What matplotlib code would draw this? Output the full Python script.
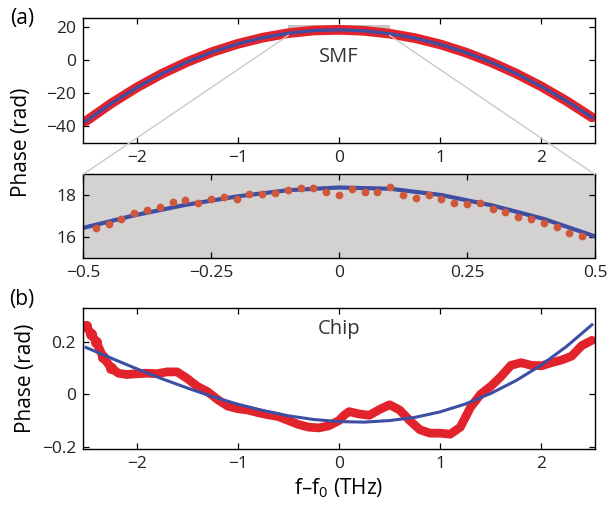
"""Phase vs frequency offset: SMF (with zoom inset) and chip."""
import matplotlib
matplotlib.use("Agg")
import matplotlib.pyplot as plt
from matplotlib.patches import Rectangle, ConnectionPatch

plt.rcParams["font.family"] = ["Open Sans", "DejaVu Sans"]
plt.rcParams["mathtext.default"] = "regular"
plt.rcParams["font.size"] = 12

# (a) SMF, full span
smf_f = [-2.5, -2.25, -2.0, -1.75, -1.5, -1.25, -1.0, -0.75, -0.5, -0.25, 0.0,
         0.25, 0.5, 0.75, 1.0, 1.25, 1.5, 1.75, 2.0, 2.25, 2.5]
smf_phase = [-37.2, -26.4, -16.8, -8.4, -1.2, 4.9, 9.8, 13.6, 16.3, 17.9, 18.35,
             17.7, 16.0, 13.3, 9.5, 4.6, -1.3, -8.2, -16.1, -25.0, -34.9]
smf_fit = [-37.2, -26.4, -16.8, -8.4, -1.2, 4.9, 9.8, 13.6, 16.3, 17.9, 18.35,
           17.7, 16.0, 13.3, 9.5, 4.6, -1.3, -8.2, -16.1, -25.0, -34.9]

# (a) SMF, zoomed -0.5..0.5 THz
zoom_f = [-0.475, -0.45, -0.425, -0.4, -0.375, -0.35, -0.325, -0.3, -0.275, -0.25,
          -0.225, -0.2, -0.175, -0.15, -0.125, -0.1, -0.075, -0.05, -0.025, 0.0,
          0.025, 0.05, 0.075, 0.1, 0.125, 0.15, 0.175, 0.2, 0.225, 0.25,
          0.275, 0.3, 0.325, 0.35, 0.375, 0.4, 0.425, 0.45, 0.475]
zoom_phase = [16.45, 16.66, 16.88, 17.17, 17.30, 17.46, 17.68, 17.76, 17.65, 17.81,
              17.94, 17.84, 18.08, 18.08, 18.13, 18.26, 18.34, 18.34, 18.16, 18.02,
              18.29, 18.16, 18.16, 18.42, 18.02, 17.86, 18.02, 17.81, 17.65, 17.57,
              17.62, 17.33, 17.20, 16.98, 16.88, 16.69, 16.50, 16.21, 16.05]
zoom_fit_f = [-0.5, -0.4, -0.3, -0.2, -0.1, 0.0, 0.1, 0.2, 0.3, 0.4, 0.5]
zoom_fit = [16.45, 17.05, 17.55, 17.95, 18.25, 18.38, 18.32, 18.02, 17.52, 16.88, 16.05]

# (b) chip
chip_f = [-2.5, -2.45, -2.4, -2.33, -2.25, -2.18, -2.1, -2.0, -1.9, -1.8, -1.7,
          -1.6, -1.5, -1.4, -1.3, -1.2, -1.1, -1.0, -0.9, -0.8, -0.7, -0.6, -0.5,
          -0.4, -0.3, -0.2, -0.1, 0.0, 0.05, 0.1, 0.2, 0.3, 0.4, 0.5, 0.6, 0.7,
          0.8, 0.9, 1.0, 1.1, 1.2, 1.3, 1.4, 1.5, 1.6, 1.7, 1.8, 1.9, 2.0, 2.1,
          2.2, 2.3, 2.4, 2.5]
chip_phase = [0.26, 0.23, 0.20, 0.14, 0.10, 0.08, 0.075, 0.078, 0.08, 0.078, 0.085,
              0.085, 0.06, 0.03, 0.01, -0.02, -0.045, -0.055, -0.06, -0.07, -0.078,
              -0.085, -0.10, -0.115, -0.125, -0.128, -0.12, -0.10, -0.08, -0.066,
              -0.075, -0.08, -0.058, -0.04, -0.06, -0.10, -0.135, -0.148, -0.148,
              -0.152, -0.125, -0.05, 0.0, 0.03, 0.067, 0.11, 0.12, 0.11, 0.108,
              0.12, 0.13, 0.145, 0.185, 0.205]
chip_fit_f = [-2.5, -2.25, -2.0, -1.75, -1.5, -1.25, -1.0, -0.75, -0.5, -0.25, 0.0,
              0.25, 0.5, 0.75, 1.0, 1.25, 1.5, 1.75, 2.0, 2.25, 2.5]
chip_fit = [0.178, 0.137, 0.097, 0.059, 0.024, -0.009, -0.038, -0.062, -0.082,
            -0.096, -0.104, -0.106, -0.100, -0.088, -0.067, -0.037, 0.003, 0.052,
            0.111, 0.182, 0.264]

RED = "#e3232b"
BLUE = "#3d4ea3"
DOT = "#d0573c"
GREY = "#d4d2d0"

fig = plt.figure(figsize=(6.08, 5.08), dpi=100)
ax1 = fig.add_axes([0.1365, 0.7185, 0.842, 0.246])
ax2 = fig.add_axes([0.1365, 0.4915, 0.842, 0.165])
ax3 = fig.add_axes([0.1365, 0.1152, 0.842, 0.278])


def style(ax):
    ax.tick_params(direction="in", length=4, width=0.9, top=True, right=True,
                   labelsize=12.5, pad=5, labelcolor="#222222")
    for s in ax.spines.values():
        s.set_linewidth(1.0)


# top panel
ax1.add_patch(Rectangle((-0.5, 15), 1.0, 6.5, facecolor="#c9c7c5", edgecolor="none",
                        zorder=1))
ax1.plot(smf_f, smf_phase, color=RED, lw=7, solid_capstyle="round", zorder=2)
ax1.plot(smf_f, smf_fit, color=BLUE, lw=2.3, zorder=3)
ax1.set_xlim(-2.53, 2.53)
ax1.set_ylim(-50.5, 25.5)
ax1.set_xticks([-2, -1, 0, 1, 2])
ax1.set_yticks([-40, -20, 0, 20])
ax1.text(0, 1.5, "SMF", ha="center", va="center", fontsize=14.5, color="#333333")
style(ax1)

# zoomed panel
ax2.set_facecolor(GREY)
ax2.plot(zoom_fit_f, zoom_fit, color=BLUE, lw=3, zorder=2)
ax2.plot(zoom_f, zoom_phase, "o", color=DOT, ms=5.6, mec="none", zorder=3)
ax2.set_xlim(-0.5, 0.5)
ax2.set_ylim(15, 19)
ax2.set_xticks([-0.5, -0.25, 0, 0.25, 0.5])
ax2.set_xticklabels(["\u22120.5", "\u22120.25", "0", "0.25", "0.5"])
ax2.set_yticks([16, 18])
style(ax2)

for xa, xb in [(-0.5, 0.0), (0.5, 1.0)]:
    con = ConnectionPatch(xyA=(xa, 15), coordsA=ax1.transData,
                          xyB=(xb, 1.0), coordsB=ax2.transAxes,
                          color="#cdc8c3", lw=1.0)
    fig.add_artist(con)

# bottom panel
ax3.plot(chip_f, chip_phase, color=RED, lw=6.3, solid_capstyle="round",
         solid_joinstyle="round", zorder=2)
ax3.plot(chip_f[:5], chip_phase[:5], "o", color=RED, ms=7, zorder=2)
ax3.plot(chip_fit_f, chip_fit, color=BLUE, lw=2.2, zorder=3)
ax3.set_xlim(-2.53, 2.53)
ax3.set_ylim(-0.21, 0.327)
ax3.set_xticks([-2, -1, 0, 1, 2])
ax3.set_yticks([-0.2, 0, 0.2])
ax3.set_yticklabels(["\u22120.2", "0", "0.2"])
ax3.text(0, 0.247, "Chip", ha="center", va="center", fontsize=14.5, color="#333333")
ax3.set_xlabel("f\u2013f$_0$ (THz)", fontsize=15, labelpad=3)
style(ax3)

fig.text(0.035, 0.72, "Phase (rad)", rotation=90, ha="center", va="center",
         fontsize=15)
fig.text(0.042, 0.255, "Phase (rad)", rotation=90, ha="center", va="center",
         fontsize=15)
fig.text(0.036, 0.964, "(a)", ha="center", va="center", fontsize=15)
fig.text(0.036, 0.41, "(b)", ha="center", va="center", fontsize=15)

fig.savefig("out.png", dpi=100)
plt.close(fig)
